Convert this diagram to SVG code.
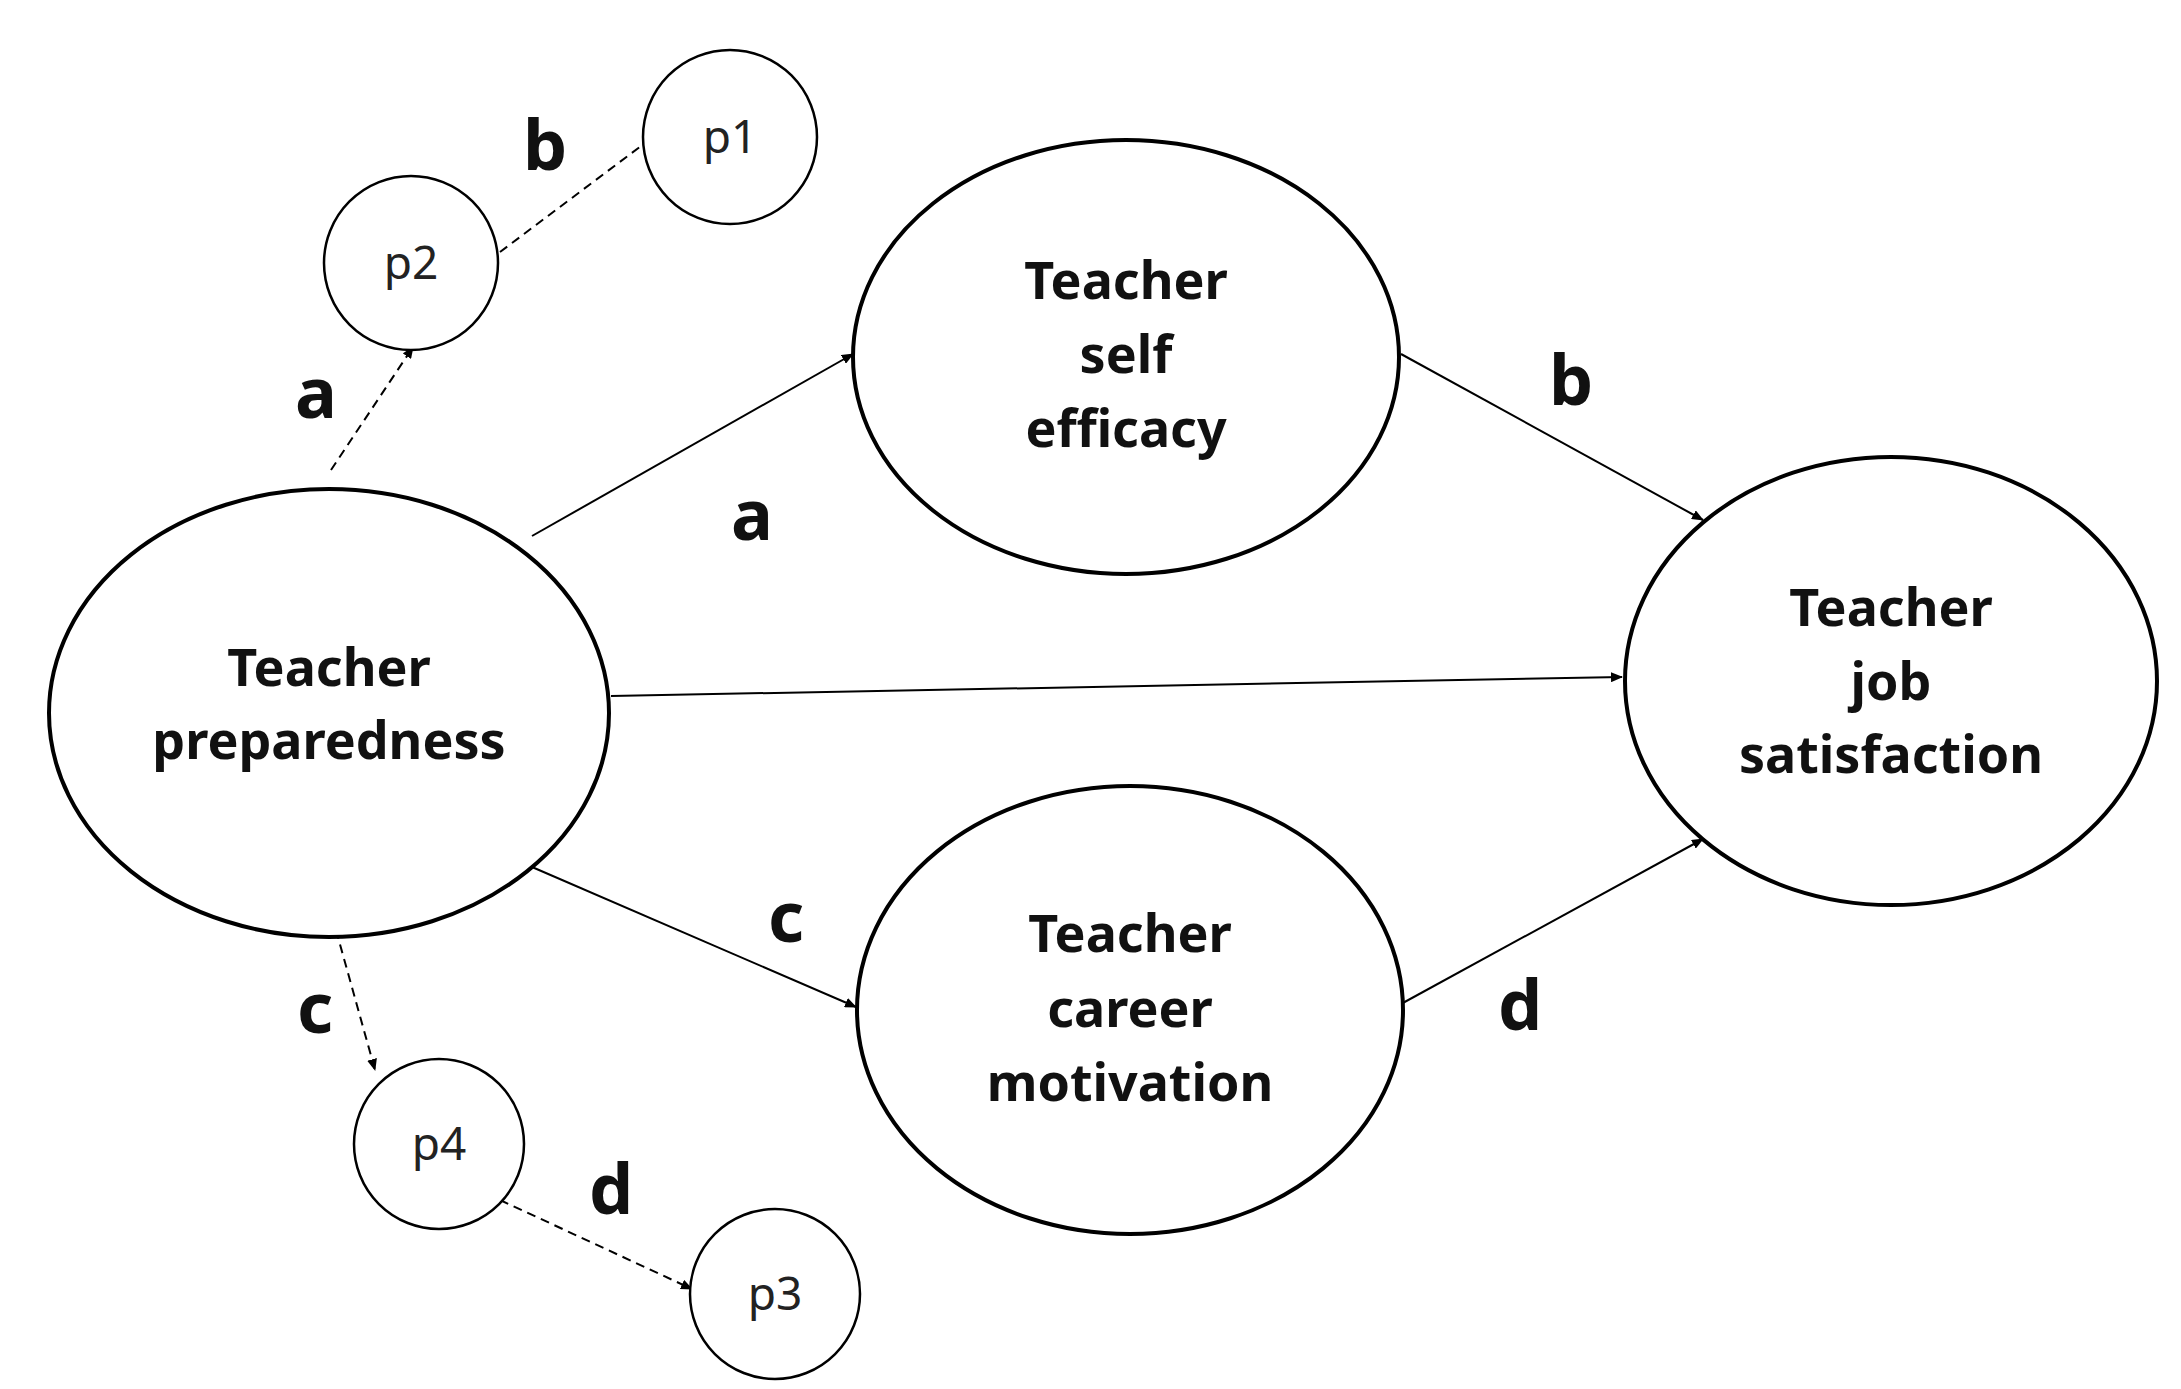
<svg xmlns="http://www.w3.org/2000/svg" width="2181" height="1389" viewBox="0 0 2181 1389">
<style>
.n{fill:#fff;stroke:#000;stroke-width:4}
.s{fill:#fff;stroke:#000;stroke-width:2.5}
.t{font-family:"Noto Sans","Open Sans",sans-serif;font-weight:bold;font-size:52px;text-anchor:middle;fill:#111}
.p{font-family:"Noto Sans","Open Sans",sans-serif;font-size:46px;text-anchor:middle;fill:#222}
.l{font-family:"Noto Sans","Open Sans",sans-serif;font-weight:bold;font-size:70px;text-anchor:middle;fill:#111}
.c{stroke:#000;stroke-width:2;fill:none;marker-end:url(#ah)}
.d{stroke:#000;stroke-width:2;fill:none;stroke-dasharray:9,6;marker-end:url(#ah)}
</style>
<defs><marker id="ah" markerWidth="12" markerHeight="10" refX="11" refY="5" orient="auto" markerUnits="userSpaceOnUse"><path d="M0,0L12,5L0,10z" fill="#000"/></marker></defs>
<rect width="2181" height="1389" fill="#fff"/>
<g id="connectors">
<line class="c" x1="532" y1="536" x2="853" y2="354"/>
<line class="c" x1="1401" y1="354" x2="1703" y2="520"/>
<line class="c" x1="611" y1="696" x2="1622" y2="677"/>
<line class="c" x1="532" y1="867" x2="856" y2="1007"/>
<line class="c" x1="1401" y1="1004" x2="1703" y2="839"/>
<line class="d" x1="331" y1="470" x2="413" y2="347"/>
<line class="d" x1="500" y1="252" x2="657" y2="134"/>
<line class="d" x1="336" y1="930" x2="375" y2="1070"/>
<line class="d" x1="500" y1="1200" x2="692" y2="1289"/>
<text class="l" x="545" y="170">b</text>
<text class="l" x="316" y="418">a</text>
<text class="l" x="752" y="540">a</text>
<text class="l" x="1571" y="405">b</text>
<text class="l" x="786" y="942">c</text>
<text class="l" x="1520" y="1030">d</text>
<text class="l" x="315" y="1033">c</text>
<text class="l" x="611" y="1214">d</text>
</g>
<g id="prep"><ellipse class="n" cx="329" cy="713" rx="280" ry="224"/><text class="t" x="329" y="686">Teacher</text><text class="t" x="329" y="759">preparedness</text></g>
<g id="self"><ellipse class="n" cx="1126" cy="357" rx="273" ry="217"/><text class="t" x="1126" y="299">Teacher</text><text class="t" x="1126" y="373">self</text><text class="t" x="1126" y="447">efficacy</text></g>
<g id="career"><ellipse class="n" cx="1130" cy="1010" rx="273" ry="224"/><text class="t" x="1130" y="952">Teacher</text><text class="t" x="1130" y="1027">career</text><text class="t" x="1130" y="1101">motivation</text></g>
<g id="job"><ellipse class="n" cx="1891" cy="681" rx="266" ry="224"/><text class="t" x="1891" y="626">Teacher</text><text class="t" x="1891" y="700">job</text><text class="t" x="1891" y="773">satisfaction</text></g>
<g id="p1"><circle class="s" cx="730" cy="137" r="87"/><text class="p" x="730" y="153">p1</text></g>
<g id="p2"><circle class="s" cx="411" cy="263" r="87"/><text class="p" x="411" y="279">p2</text></g>
<g id="p4"><circle class="s" cx="439" cy="1144" r="85"/><text class="p" x="439" y="1160">p4</text></g>
<g id="p3"><circle class="s" cx="775" cy="1294" r="85"/><text class="p" x="775" y="1310">p3</text></g>
</svg>
